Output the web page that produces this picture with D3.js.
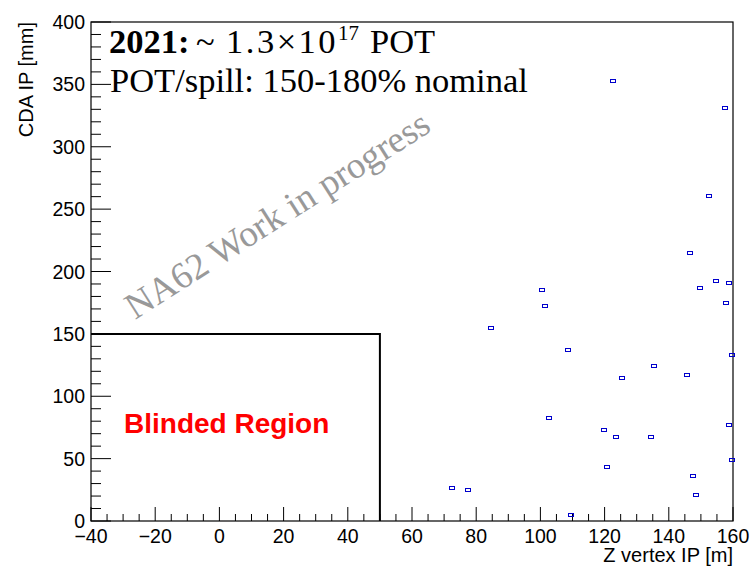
<!DOCTYPE html>
<html>
<head>
  <meta charset="utf-8">
  <title>CDA IP vs Z vertex IP</title>
  <script src="https://cdn.jsdelivr.net/npm/d3@7"></script>
  <style>
    body { margin: 0; background: #fff; }
    .tick-label { font-family: "Liberation Sans", Arial, sans-serif; font-size: 19.5px; fill: #000; }
    .axis-title { font-family: "Liberation Sans", Arial, sans-serif; font-size: 20px; fill: #000; }
    .frame { fill: none; stroke: #000; stroke-width: 1.2; }
    .tick { stroke: #000; stroke-width: 1; }
    .blind { fill: none; stroke: #000; stroke-width: 2; }
    .pt { fill: none; stroke: #0000cc; stroke-width: 1; }
    .latex { font-family: "Liberation Serif", "Times New Roman", serif; fill: #000; }
    .latex.wm { fill: #999; }
  </style>
</head>
<body>
<svg id="chart"></svg>
<script>
// event positions: z vertex [m], cda [mm]
var zVertex = [122.5, 157.6, 152.6, 146.6, 154.6, 158.7, 149.6, 157.7, 100.6, 101.5,
               84.5, 108.6, 159.6, 135.5, 145.6, 125.5, 102.6, 119.7, 123.5, 134.5,
               158.7, 159.6, 120.7, 147.4, 148.6, 72.4, 77.4, 109.5];
var cda     = [353.0, 330.8, 260.5, 214.8, 192.6, 190.8, 186.8, 174.5, 184.9, 172.6,
               154.7, 137.1, 133.0, 124.5, 117.0, 114.9, 82.6, 72.9, 67.1, 67.1,
               76.7, 48.9, 43.0, 36.3, 20.8, 26.7, 25.1, 4.6];

// blinded box corners
var blindZ = [-40, 50, 50];
var blindCda = [150, 150, 0];

var xTicks = [-40, -20, 0, 20, 40, 60, 80, 100, 120, 140, 160];
var yTicks = [0, 50, 100, 150, 200, 250, 300, 350, 400];

var width = 753, height = 566;
var margin = {top: 22, right: 20, bottom: 45, left: 91};

var svg = d3.select('#chart')
  .attr('width', width)
  .attr('height', height);

var x = d3.scaleLinear().domain([-40, 160]).range([margin.left, width - margin.right]);
var y = d3.scaleLinear().domain([0, 400]).range([height - margin.bottom, margin.top]);

var fmt = d => d < 0 ? '\u2212' + Math.abs(d) : '' + d;

// minor ticks x: every 5, y: every 10
var xMinor = d3.range(-40, 160.1, 5).filter(v => xTicks.indexOf(v) < 0);
var yMinor = d3.range(0, 400.1, 10).filter(v => yTicks.indexOf(v) < 0);

var y0 = y(0);
svg.selectAll('line.xmaj').data(xTicks).enter().append('line')
  .attr('class', 'tick')
  .attr('x1', d => x(d)).attr('x2', d => x(d))
  .attr('y1', y0).attr('y2', y0 - 14);
svg.selectAll('line.xmin').data(xMinor).enter().append('line')
  .attr('class', 'tick')
  .attr('x1', d => x(d)).attr('x2', d => x(d))
  .attr('y1', y0).attr('y2', y0 - 7);

var x0 = x(-40);
svg.selectAll('line.ymaj').data(yTicks).enter().append('line')
  .attr('class', 'tick')
  .attr('x1', x0).attr('x2', x0 + 20)
  .attr('y1', d => y(d)).attr('y2', d => y(d));
svg.selectAll('line.ymin').data(yMinor).enter().append('line')
  .attr('class', 'tick')
  .attr('x1', x0).attr('x2', x0 + 10)
  .attr('y1', d => y(d)).attr('y2', d => y(d));

// tick labels
svg.selectAll('text.xl').data(xTicks).enter().append('text')
  .attr('class', 'tick-label')
  .attr('x', d => x(d))
  .attr('y', y0 + 22)
  .attr('text-anchor', 'middle')
  .text(fmt);
svg.selectAll('text.yl').data(yTicks).enter().append('text')
  .attr('class', 'tick-label')
  .attr('x', x0 - 6)
  .attr('y', d => y(d) + 7)
  .attr('text-anchor', 'end')
  .text(fmt);

// frame
svg.append('rect')
  .attr('class', 'frame')
  .attr('x', x(-40)).attr('y', y(400))
  .attr('width', x(160) - x(-40))
  .attr('height', y(0) - y(400));

// axis titles
svg.append('text')
  .attr('class', 'axis-title')
  .attr('x', x(160)).attr('y', height - 4)
  .attr('text-anchor', 'end')
  .text('Z vertex IP [m]');
svg.append('text')
  .attr('class', 'axis-title')
  .attr('transform', 'translate(33,' + y(400) + ') rotate(-90)')
  .attr('text-anchor', 'end')
  .text('CDA IP [mm]');

// blinded region box
svg.append('path')
  .attr('class', 'blind')
  .attr('d', d3.line().x(d => x(d[0])).y(d => y(d[1]))(d3.zip(blindZ, blindCda)));

svg.append('text')
  .attr('x', 124).attr('y', 433)
  .attr('fill', '#ff0000')
  .attr('font-family', '"Liberation Sans", Arial, sans-serif')
  .attr('font-weight', 'bold')
  .attr('font-size', 28)
  .text('Blinded Region');

// watermark
svg.append('text')
  .attr('class', 'latex wm')
  .attr('transform', 'translate(135,320) rotate(-32.5)')
  .attr('font-size', 37)
  .text('NA62 Work in progress');

// header text (spacing follows ROOT's TLatex layout)
var t1 = svg.append('text').attr('class', 'latex').attr('y', 53).attr('font-size', 34.5);
t1.append('tspan').attr('x', 109).attr('font-weight', 'bold').text('2021:');
t1.append('tspan').attr('x', 196).text('~');
t1.append('tspan').attr('x', 226).attr('letter-spacing', 2.5).text('1.3\u00d710');
t1.append('tspan').attr('x', 338).attr('font-size', 21).attr('dy', -13).text('17');
t1.append('tspan').attr('x', 370).attr('dy', 13).text('POT');

svg.append('text').attr('class', 'latex')
  .attr('x', 110).attr('y', 92).attr('font-size', 34.5)
  .text('POT/spill: 150-180% nominal');

// events
svg.selectAll('rect.pt')
  .data(d3.zip(zVertex, cda))
  .enter()
  .append('rect')
  .attr('class', 'pt')
  .attr('x', d => Math.round(x(d[0])) - 2.5)
  .attr('y', d => Math.round(y(d[1])) - 1.5)
  .attr('width', 5)
  .attr('height', 3);
</script>
</body>
</html>
